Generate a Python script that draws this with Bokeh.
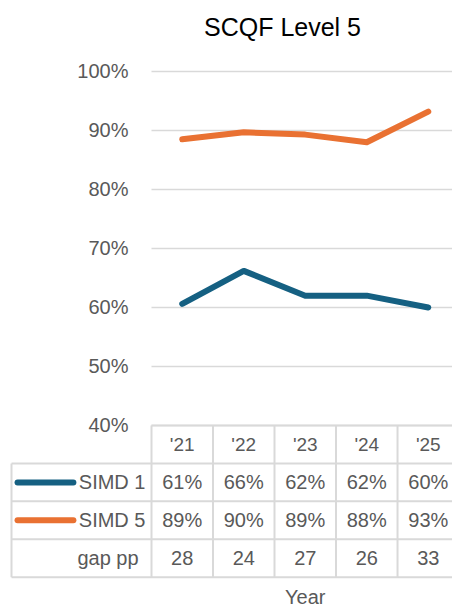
from bokeh.plotting import figure
from bokeh.models import Range1d
from bokeh.core.properties import value
from bokeh.embed import file_html
from bokeh.resources import INLINE

# ---- data ----
years = ["'21", "'22", "'23", "'24", "'25"]
simd1 = [60.6, 66.2, 62.0, 62.0, 60.0]
simd5 = [88.5, 89.7, 89.3, 88.0, 93.2]
simd1_labels = ["61%", "66%", "62%", "62%", "60%"]
simd5_labels = ["89%", "90%", "89%", "88%", "93%"]
gap_pp = ["28", "24", "27", "26", "33"]
row_names = ["SIMD 1", "SIMD 5", "gap pp"]
y_ticks = [40, 50, 60, 70, 80, 90, 100]
y_tick_labels = [f"{t}%" for t in y_ticks]
chart_title = "SCQF Level 5"
x_title = "Year"

# ---- style ----
C1 = "#156082"
C5 = "#E97132"
GRID = "#D9D9D9"
TXT = "#595959"
AX_FONT = value("Liberation Sans")
TB_FONT = value("Liberation Sans")

xs = list(range(len(years)))
n = len(years)

p = figure(width=452, height=610, output_backend="svg", toolbar_location=None,
           x_range=Range1d(-2.955, 4.394), y_range=Range1d(8.64, 112.03),
           x_axis_type=None, y_axis_type=None, min_border=0,
           outline_line_color=None, background_fill_color="white",
           border_fill_color="white")
p.extra_y_ranges = {"table": Range1d(4.878, -11.206)}

# gridlines
p.segment(x0=-0.5, x1=n - 0.5, y0=y_ticks, y1=y_ticks, line_color=GRID, line_width=1.5)
# y tick labels
p.text(x=-0.874, y=y_ticks, text=y_tick_labels, text_align="right", text_baseline="middle",
       text_font=AX_FONT, text_font_size=value("20px"), text_color=TXT)

# series lines
p.line(xs, simd5, line_color=C5, line_width=6, line_join="round", line_cap="round")
p.line(xs, simd1, line_color=C1, line_width=6, line_join="round", line_cap="round")

# title
p.text(x=[1.63], y=[107.6], text=[chart_title], text_align="center", text_baseline="middle",
       text_font=AX_FONT, text_font_size=value("25px"), text_color="black")

# ---- data table ----
TL = -2.776
n_rows = 4
# horizontal lines
p.segment(x0=[-0.5] + [TL] * n_rows, x1=[n - 0.5] * (n_rows + 1),
          y0=list(range(n_rows + 1)), y1=list(range(n_rows + 1)),
          line_color=GRID, line_width=2, y_range_name="table")
# vertical lines
vx = [TL] + [k - 0.5 for k in range(n + 1)]
p.segment(x0=vx, x1=vx, y0=[1] + [0] * (n + 1), y1=[n_rows] * (n + 2),
          line_color=GRID, line_width=2, y_range_name="table")

# header
p.text(x=xs, y=[0.5] * n, text=years, text_align="center", text_baseline="middle",
       text_font=TB_FONT, text_font_size=value("19px"), text_color=TXT, y_range_name="table")
for r, vals in enumerate([simd1_labels, simd5_labels, gap_pp]):
    p.text(x=xs, y=[1.5 + r] * n, text=vals, text_align="center", text_baseline="middle",
           text_font=TB_FONT, text_font_size=value("20px"), text_color=TXT, y_range_name="table")

# row labels
p.text(x=[-0.598, -0.598, -0.71], y=[1.5, 2.5, 3.5], text=row_names, text_align="right",
       text_baseline="middle", text_font=TB_FONT, text_font_size=value("20px"),
       text_color=TXT, y_range_name="table")
# legend keys
p.segment(x0=[-2.678, -2.678], x1=[-1.77, -1.77], y0=[1.5, 2.5], y1=[1.5, 2.5],
          line_color=[C1, C5], line_width=6, line_cap="round", y_range_name="table")

# axis title
p.text(x=[2.0], y=[4.51], text=[x_title], text_align="center", text_baseline="middle",
       text_font=TB_FONT, text_font_size=value("20px"), text_color=TXT, y_range_name="table")

open("out.html", "w").write(file_html(p, INLINE))
